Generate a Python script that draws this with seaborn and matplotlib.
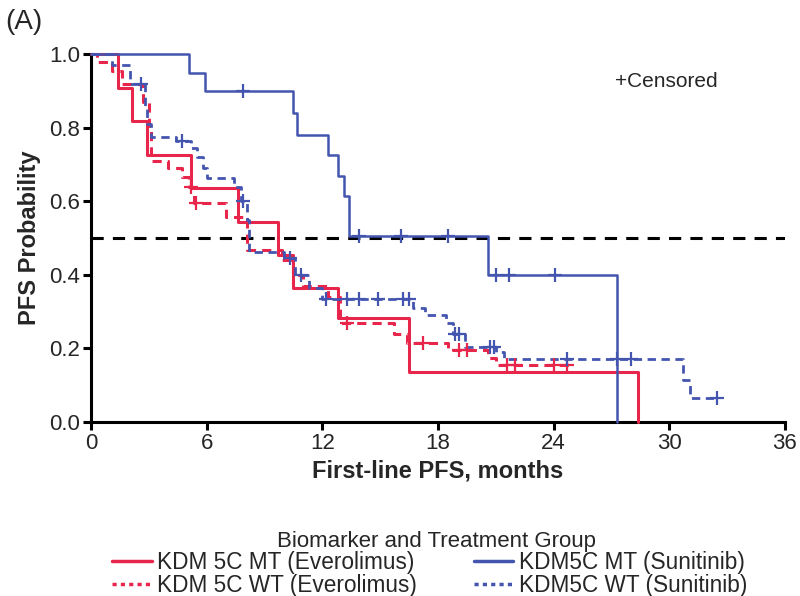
import numpy as np
import seaborn as sns
from matplotlib import pyplot as plt
from matplotlib.lines import Line2D

# step curves (time in months, survival after the step)
red_mt_time = [0, 1.4, 2.1, 2.9, 5.2, 7.6, 9.7, 10.5, 12.8, 16.5, 28.4]
red_mt_surv = [1.0, 0.909, 0.818, 0.727, 0.636, 0.545, 0.455, 0.364, 0.283, 0.136, 0.0]
red_mt_end = 28.4
red_mt_cens = []

red_wt_time = [0, 0.3, 1.1, 1.6, 2.7, 3.0, 3.1, 4.0, 4.7, 5.1, 5.35, 7.0, 8.1, 9.9,
               10.5, 11.0, 12.3, 12.9, 15.7, 16.4, 18.5, 20.6, 21.0]
red_wt_surv = [1.0, 0.978, 0.955, 0.92, 0.87, 0.80, 0.71, 0.69, 0.665, 0.64, 0.595, 0.557,
               0.467, 0.44, 0.40, 0.37, 0.34, 0.27, 0.24, 0.215, 0.196, 0.175, 0.155]
red_wt_end = 24.9
red_wt_cens = [5.2, 5.45, 13.3, 17.2, 19.1, 19.5, 21.6, 22.0, 24.0, 24.7]

blue_mt_time = [0, 5.1, 5.9, 10.45, 10.7, 12.3, 12.8, 13.1, 13.4, 20.6, 27.3]
blue_mt_surv = [1.0, 0.95, 0.90, 0.84, 0.78, 0.725, 0.67, 0.615, 0.505, 0.40, 0.0]
blue_mt_end = 27.3
blue_mt_cens = [7.9, 13.9, 16.1, 18.5, 21.0, 21.7, 24.05]

blue_wt_time = [0, 1.1, 2.0, 2.8, 2.9, 3.1, 4.4, 5.2, 5.5, 5.8, 6.0, 7.4, 7.8, 8.1, 8.2,
                10.0, 10.6, 11.3, 12.0, 16.7, 17.3, 18.4, 18.8, 19.4, 21.0, 21.4, 30.7, 31.1]
blue_wt_surv = [1.0, 0.97, 0.92, 0.86, 0.81, 0.775, 0.765, 0.745, 0.72, 0.69, 0.663, 0.64,
                0.60, 0.55, 0.462, 0.445, 0.40, 0.365, 0.335, 0.31, 0.29, 0.27, 0.24, 0.205,
                0.19, 0.17, 0.115, 0.065]
blue_wt_end = 32.5
blue_wt_cens = [2.6, 4.7, 7.9, 10.3, 10.9, 12.2, 13.3, 13.9, 14.9, 16.2, 16.5, 18.9, 19.1,
                20.7, 20.9, 24.7, 27.3, 28.0, 32.5]

labels = ['KDM 5C MT (Everolimus)', 'KDM 5C WT (Everolimus)',
          'KDM5C MT (Sunitinib)', 'KDM5C WT (Sunitinib)']
legend_title = 'Biomarker and Treatment Group'

RED = '#E8264C'
BLUE = '#4455B0'

sns.set_style('ticks')
plt.rcParams['font.family'] = ['Liberation Sans', 'DejaVu Sans']

fig = plt.figure(figsize=(8, 5.96), dpi=100)
ax = fig.add_axes([0.114, 0.292, 0.867, 0.617])

groups = [
    (red_mt_time, red_mt_surv, red_mt_end, red_mt_cens, RED, '-', 2.2),
    (red_wt_time, red_wt_surv, red_wt_end, red_wt_cens, RED, (0, (3, 2)), 2.2),
    (blue_mt_time, blue_mt_surv, blue_mt_end, blue_mt_cens, BLUE, '-', 1.8),
    (blue_wt_time, blue_wt_surv, blue_wt_end, blue_wt_cens, BLUE, (0, (3, 2)), 2.0),
]

ax.axhline(0.5, color='black', lw=2.2, ls=(0, (4, 3)), zorder=1)

for t, s, end, cens, col, ls, lw in groups:
    xs = list(t) + [end]
    ys = list(s) + [s[-1]]
    sns.lineplot(x=xs, y=ys, drawstyle='steps-post', estimator=None, sort=False,
                 color=col, lw=lw, linestyle=ls, ax=ax, clip_on=False, zorder=3)
    if cens:
        idx = np.searchsorted(t, cens, side='right') - 1
        cy = np.array(s)[idx]
        sns.scatterplot(x=cens, y=cy, marker='+', s=110, linewidth=1.6, color=col,
                        ax=ax, clip_on=False, zorder=4)

ax.set_xlim(0, 36)
ax.set_ylim(0, 1.0)
ax.set_xticks(range(0, 37, 6))
ax.set_yticks([0.0, 0.2, 0.4, 0.6, 0.8, 1.0])
ax.set_yticklabels(['0.0', '0.2', '0.4', '0.6', '0.8', '1.0'])
sns.despine(ax=ax)
for sp in ['left', 'bottom']:
    ax.spines[sp].set_linewidth(2.2)
    ax.spines[sp].set_color('black')
ax.tick_params(axis='both', length=6, width=2.2, labelsize=16, color='black', pad=2)

ax.set_xlabel('First-line PFS, months', fontsize=17, fontweight='bold', labelpad=4)
ax.set_ylabel('PFS Probability', fontsize=17, fontweight='bold', labelpad=6)

ax.text(0.755, 0.925, '+Censored', transform=ax.transAxes, fontsize=15, ha='left', va='center')
fig.text(0.006, 0.985, '(A)', fontsize=20, ha='left', va='top')

handles = [
    Line2D([], [], color=RED, lw=2.5, ls='-'),
    Line2D([], [], color=RED, lw=2.5, ls=(0, (1.2, 1.2))),
    Line2D([], [], color=BLUE, lw=2.5, ls='-'),
    Line2D([], [], color=BLUE, lw=2.5, ls=(0, (1.2, 1.2))),
]
fig.text(0.545, 1 - 541 / 596, legend_title, fontsize=16, ha='center', va='center')
fig.legend(handles, labels, loc='lower center',
           bbox_to_anchor=(0.537, -0.002), bbox_transform=fig.transFigure,
           ncol=2, frameon=False, fontsize=16.3, handlelength=1.75,
           handletextpad=0.25, columnspacing=2.5, labelspacing=0.0, borderpad=0,
           borderaxespad=0)

fig.savefig('out.png', dpi=100)
plt.close()
